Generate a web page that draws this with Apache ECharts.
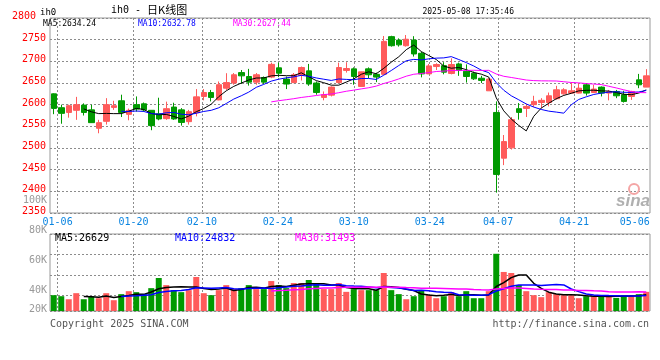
<!DOCTYPE html>
<html><head><meta charset="utf-8">
<script src="https://cdn.jsdelivr.net/npm/echarts@6/dist/echarts.min.js"></script>
<style>html,body{margin:0;padding:0;background:#fff}#c{width:660px;height:360px}</style>
</head><body><div id="c"></div>
<script>
// ---- data ----
const dates = ['01-03','01-06','01-07','01-08','01-09','01-10','01-13','01-14','01-15','01-16','01-17',
'01-20','01-21','01-22','01-23','01-24','01-27','02-05','02-06','02-07',
'02-10','02-11','02-12','02-13','02-14','02-17','02-18','02-19','02-20','02-21',
'02-24','02-25','02-26','02-27','02-28','03-03','03-04','03-05','03-06','03-07',
'03-10','03-11','03-12','03-13','03-14','03-17','03-18','03-19','03-20','03-21',
'03-24','03-25','03-26','03-27','03-28','03-31','04-01','04-02','04-03',
'04-07','04-08','04-09','04-10','04-11','04-14','04-15','04-16','04-17','04-18',
'04-21','04-22','04-23','04-24','04-25','04-28','04-29','04-30','05-06','05-07','05-08'];
const opens = [2625,2593,2582,2587,2599,2588,2545.5,2561.6,2593.7,2609,2577.6,2600,2602,2587,2579,2567.7,2594.5,2588,2560.8,2581.5,
2619,2628,2611,2638,2650,2674,2665,2652,2662.7,2663.6,2685,2659,2651,2667.5,2678,2650,2616.7,2622,2651,2679,
2682.6,2642,2682.6,2670,2670,2757,2749,2736,2749,2718.6,2671,2688,2690,2672,2694,2677,2672.6,2661,2632,
2582,2476.5,2500.3,2590.7,2591.4,2600,2605,2605,2613.7,2625,2626.7,2626.7,2645.8,2628,2640.5,2626.7,2630.5,2623,2619,2657.3,2640.5];
const closes = [2591.4,2580,2597.6,2600,2582,2558.5,2558.5,2600,2597.6,2582,2587,2590,2588,2551.6,2567,2590.7,2567,2559,2583.8,2618,
2628,2616.7,2646,2651,2669,2666.5,2652,2669,2652,2693,2672.6,2647.6,2669,2685.7,2647.6,2628,2623,2640.5,2685.7,2683.4,
2665,2675.7,2669,2663.6,2746,2736,2738,2751,2717,2671,2689.5,2692.6,2675,2692.6,2679,2665,2659.6,2656,2659,
2439,2514.8,2565.4,2582.2,2596,2607.5,2610,2620.5,2634.3,2634.3,2632,2638,2626.7,2636,2626.7,2629.7,2620.5,2607.5,2630.5,2645.8,2666.5];
const lows = [2578,2556,2570,2565,2575,2558,2534,2554,2588,2571.5,2564,2584,2584,2541,2564,2565,2565,2551.6,2554,2573,
2610,2607.5,2610,2634,2646,2648,2644,2646,2648,2661,2663.6,2636,2649.6,2655.8,2643.5,2623,2610,2619,2649.6,2674,
2646,2642,2661,2652,2668.5,2734,2734,2734,2711,2663,2671,2680,2670,2670,2666.5,2651,2657,2650,2632,
2397,2460.5,2496.5,2565.4,2571.5,2594.5,2592,2596,2611.4,2623,2626.7,2626,2621,2626.7,2619,2610,2615,2605,2611,2638,2640.5];
const highs = [2626,2600,2600,2618,2603,2600,2565,2615,2609,2623,2591,2619,2605,2587,2616,2607,2604.5,2592,2588,2636,
2636,2634,2653.5,2672.6,2673,2680,2682.6,2673,2665,2697,2697,2665,2673,2688,2694,2653.5,2630.5,2642,2697,2698,
2686,2676,2686,2674,2758.4,2759,2753,2760.7,2758,2722,2694,2695.6,2698,2707,2697,2693,2676.5,2666.5,2661,
2607.5,2530,2571.5,2603.7,2602,2620.5,2615,2628,2643.5,2638,2652,2650,2650,2645.8,2642,2634,2634,2632,2632,2671,2682];
const volumes = [26100,24400,19400,29400,19400,24400,21100,29400,17800,27800,32700,31100,27800,37700,54400,42700,34400,31100,34400,56100,
29400,26100,34400,42700,36100,37700,42700,36100,36100,49400,42700,37700,46100,46100,51100,44400,36100,36100,46100,31600,
36100,34400,34400,34400,62700,34400,27800,19400,24400,34400,26100,21100,24400,31100,24400,32700,21100,21100,32700,
94400,64400,62700,42700,32700,26100,22800,31100,27800,26100,26100,21100,24400,24400,26100,24400,21600,26100,26100,27800,31600];
const labelDates = ['01-06','01-20','02-10','02-24','03-10','03-24','04-07','04-21','05-06'];
const gridDates = ['01-06','01-20','02-10','02-24','03-10','03-24','04-07','04-21'];
const priceMin = 2350, priceMax = 2800, priceStep = 50;
const volTickLabels = ['100K','80K','60K','40K','20K'];
const headerMA = ['MA5:2634.24','MA10:2632.78','MA30:2627.44'];
const volHeaderMA = ['MA5:26629','MA10:24832','MA30:31493'];

// ---- layout / style ----
const UP = '#ff5b5b', DOWN = '#009a00';
const MA_COLORS = ['#000000', '#0000ff', '#ff00ff'];
const MONO = '"DejaVu Sans Mono", "Liberation Mono", monospace';
const GRID_LINE = {color: '#8c8c8c', type: [2, 2], width: 1};
const volLabelY = [200.5, 230.5, 260.5, 290.5, 309.5];

function movingAverage(vals, n) {
  return vals.map((v, i) => {
    if (i < n - 1) return '-';
    let s = 0;
    for (let k = i - n + 1; k <= i; k++) s += vals[k];
    return +(s / n).toFixed(2);
  });
}

const kData = dates.map((d, i) => [opens[i], closes[i], lows[i], highs[i]]);
const volData = volumes.map((v, i) => ({
  value: v,
  itemStyle: {color: closes[i] >= opens[i] ? UP : DOWN}
}));

const chart = echarts.init(document.getElementById('c'), null, {renderer: 'canvas'});

function txt(text, x, y, color, size, align, family, extra) {
  return {
    type: 'text', x: x, y: y, silent: true, z: 100,
    style: Object.assign({
      text: text, fill: color, font: size + 'px ' + (family || MONO),
      align: align || 'left', verticalAlign: 'middle',
      textAlign: align || 'left', textVerticalAlign: 'middle'
    }, extra || {})
  };
}

const hiddenCat = (grid) => ({type: 'category', gridIndex: grid, position: 'bottom', data: dates, boundaryGap: true,
  axisLine: {show: false}, axisTick: {show: false}, axisLabel: {show: false}, splitLine: {show: false}});

const option = {
  animation: false,
  backgroundColor: '#ffffff',
  grid: [
    {left: 50, top: 18, width: 600, height: 195, show: true, borderColor: '#999999', borderWidth: 1, backgroundColor: 'transparent'},
    {left: 50, top: 234, width: 600, height: 77, show: true, borderColor: '#999999', borderWidth: 1, backgroundColor: 'transparent'}
  ],
  xAxis: [
    hiddenCat(0),
    {type: 'category', gridIndex: 0, position: 'bottom', data: dates, boundaryGap: false, axisLine: {show: false}, axisTick: {show: false},
      axisLabel: {show: true, interval: (i, v) => labelDates.indexOf(v) >= 0, color: '#0a84e0', fontSize: 10, fontFamily: MONO, margin: 4, hideOverlap: false},
      splitLine: {show: true, interval: (i, v) => gridDates.indexOf(v) >= 0, lineStyle: GRID_LINE}},
    hiddenCat(1),
    {type: 'category', gridIndex: 1, position: 'bottom', data: dates, boundaryGap: false, axisLine: {show: false}, axisTick: {show: false}, axisLabel: {show: false},
      splitLine: {show: true, interval: (i, v) => gridDates.indexOf(v) >= 0, lineStyle: GRID_LINE}}
  ],
  yAxis: [
    {type: 'value', gridIndex: 0, position: 'left', min: priceMin, max: priceMax, interval: priceStep, axisLine: {show: false}, axisTick: {show: false},
      axisLabel: {color: '#ff0000', fontSize: 10, fontFamily: MONO, margin: 4, padding: [0, 0, 3, 0],
        formatter: v => v === priceMax ? '{top|' + v + '}' : String(v),
        rich: {top: {color: '#ff0000', fontSize: 10, fontFamily: MONO, padding: [0, 10, 0, 0]}}},
      splitLine: {show: true, lineStyle: GRID_LINE}},
    {type: 'value', gridIndex: 1, position: 'left', min: 0, max: 127000, axisLine: {show: false}, axisTick: {show: false}, axisLabel: {show: false}, splitLine: {show: false}},
    {type: 'value', gridIndex: 1, position: 'left', min: 0, max: 3.76, interval: 1, inverse: true, axisLine: {show: false}, axisTick: {show: false}, axisLabel: {show: false},
      splitLine: {show: true, lineStyle: GRID_LINE}}
  ],
  series: [
    {type: 'candlestick', xAxisIndex: 0, yAxisIndex: 0, data: kData, barWidth: 6,
      itemStyle: {color: UP, color0: DOWN, borderColor: UP, borderColor0: DOWN, borderWidth: 1}},
    {type: 'line', xAxisIndex: 0, yAxisIndex: 0, data: movingAverage(closes, 5), symbol: 'none', lineStyle: {color: MA_COLORS[0], width: 1}, z: 5},
    {type: 'line', xAxisIndex: 0, yAxisIndex: 0, data: movingAverage(closes, 10), symbol: 'none', lineStyle: {color: MA_COLORS[1], width: 1}, z: 5},
    {type: 'line', xAxisIndex: 0, yAxisIndex: 0, data: movingAverage(closes, 30), symbol: 'none', lineStyle: {color: MA_COLORS[2], width: 1}, z: 5},
    {type: 'bar', xAxisIndex: 2, yAxisIndex: 1, data: volData, barWidth: 6},
    {type: 'line', xAxisIndex: 2, yAxisIndex: 1, data: movingAverage(volumes, 5), symbol: 'none', lineStyle: {color: MA_COLORS[0], width: 1.5}, z: 5},
    {type: 'line', xAxisIndex: 2, yAxisIndex: 1, data: movingAverage(volumes, 10), symbol: 'none', lineStyle: {color: MA_COLORS[1], width: 1.5}, z: 5},
    {type: 'line', xAxisIndex: 2, yAxisIndex: 1, data: movingAverage(volumes, 30), symbol: 'none', lineStyle: {color: MA_COLORS[2], width: 1.5}, z: 5}
  ],
  graphic: {elements: [
    txt('ih0', 40, 12.5, '#000', 9),
    {type: 'text', x: 111, y: 10, silent: true, z: 100, style: {
      text: '{a|ih0 - }{b|日K线图}', verticalAlign: 'middle', textVerticalAlign: 'middle',
      rich: {a: {fontSize: 10, fontFamily: MONO, fill: '#000', color: '#000'},
             b: {fontSize: 11, fontFamily: '"Noto Sans CJK SC"', fill: '#000', color: '#000'}}}},
    txt('2025-05-08 17:35:46', 514, 11.5, '#000', 8, 'right'),
    txt(headerMA[0], 43, 24, MA_COLORS[0], 8),
    txt(headerMA[1], 138, 24, MA_COLORS[1], 8),
    txt(headerMA[2], 233, 24, MA_COLORS[2], 8),
    txt(volHeaderMA[0], 55, 238.5, MA_COLORS[0], 10),
    txt(volHeaderMA[1], 175, 238.5, MA_COLORS[1], 10),
    txt(volHeaderMA[2], 295, 238.5, MA_COLORS[2], 10),
    txt(volTickLabels[0], 47, volLabelY[0], '#999', 10, 'right'),
    txt(volTickLabels[1], 47, volLabelY[1], '#999', 10, 'right'),
    txt(volTickLabels[2], 47, volLabelY[2], '#999', 10, 'right'),
    txt(volTickLabels[3], 47, volLabelY[3], '#999', 10, 'right'),
    txt(volTickLabels[4], 47, volLabelY[4], '#999', 10, 'right'),
    txt('Copyright 2025 SINA.COM', 50, 324, '#555', 10),
    txt('http://finance.sina.com.cn', 649, 324, '#555', 10, 'right'),
    {type: 'circle', silent: true, z: 90, shape: {cx: 634, cy: 189, r: 5}, style: {fill: 'none', stroke: '#f4a5a5', lineWidth: 2}},
    txt('sina', 650, 201, '#b0b0b0', 17, 'right', null, {font: 'italic bold 17px "Liberation Sans", sans-serif'})
  ]}
};
chart.setOption(option);
</script>
</body></html>
